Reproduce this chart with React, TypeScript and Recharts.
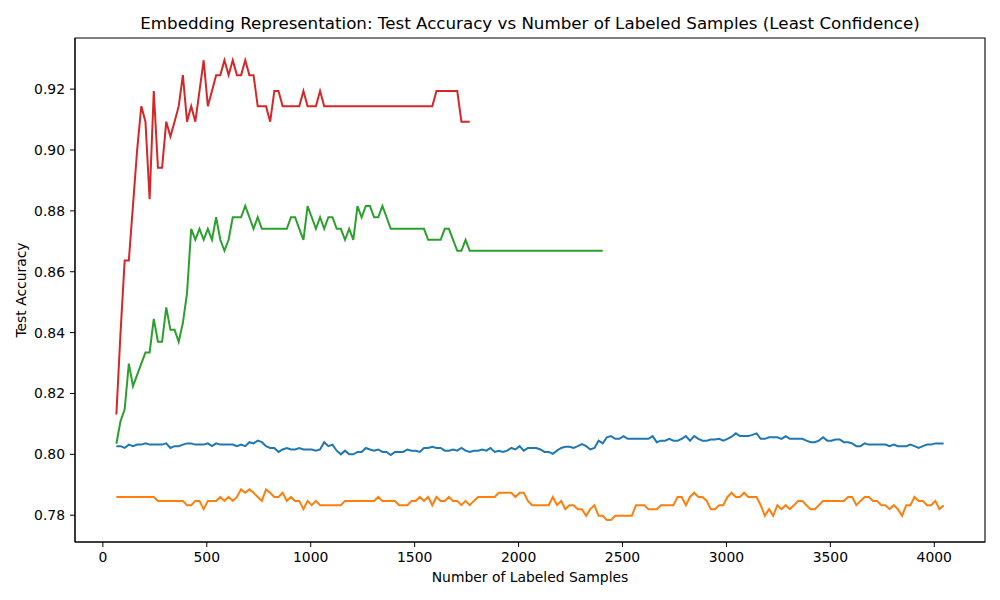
import React from "react";
import { Label, Line, LineChart, ReferenceArea, XAxis, YAxis } from "recharts";

// labeled-sample counts: first round, then a fixed batch per round
const START_SAMPLES = 65;
const BATCH = 20;

const xTicks = [0, 500, 1000, 1500, 2000, 2500, 3000, 3500, 4000];
const yTicks = [0.78, 0.8, 0.82, 0.84, 0.86, 0.88, 0.9, 0.92];
const X_DOMAIN = [-134, 4244];
const Y_DOMAIN = [0.7712, 0.9368];

const blueAcc = [
  0.8027, 0.8027, 0.8021, 0.8032, 0.8027, 0.8032, 0.8032, 0.8036, 0.8032, 0.8032,
  0.8032, 0.8032, 0.8036, 0.8021, 0.8027, 0.8027, 0.8032, 0.8036, 0.8036, 0.8032,
  0.8032, 0.8032, 0.8036, 0.8027, 0.8036, 0.8032, 0.8032, 0.8032, 0.8032, 0.8027,
  0.8032, 0.8027, 0.804, 0.8036, 0.8045, 0.804, 0.8027, 0.8021, 0.8021, 0.8008,
  0.8016, 0.8021, 0.8016, 0.8016, 0.8021, 0.8016, 0.8016, 0.8016, 0.8012, 0.8016,
  0.804, 0.8027, 0.8032, 0.8012, 0.8, 0.8012, 0.8, 0.8, 0.8008, 0.8008,
  0.8021, 0.8016, 0.8012, 0.8016, 0.8008, 0.8008, 0.7998, 0.8008, 0.8008, 0.8008,
  0.8016, 0.8012, 0.8012, 0.8008, 0.8021, 0.8021, 0.8025, 0.8021, 0.8021, 0.8012,
  0.8012, 0.8016, 0.8012, 0.8021, 0.8012, 0.8008, 0.8012, 0.8012, 0.8016, 0.8012,
  0.8021, 0.8008, 0.8012, 0.8008, 0.8012, 0.8021, 0.8016, 0.8027, 0.8012, 0.8021,
  0.8021, 0.8021, 0.8016, 0.8008, 0.8008, 0.8002, 0.8012, 0.8021, 0.8025, 0.8025,
  0.8021, 0.8027, 0.8034, 0.8027, 0.8016, 0.8021, 0.8045, 0.8036, 0.8056, 0.806,
  0.8051, 0.8051, 0.806, 0.8051, 0.8051, 0.8051, 0.8051, 0.8051, 0.8051, 0.806,
  0.804, 0.8045, 0.8045, 0.8051, 0.8045, 0.8045, 0.8051, 0.806, 0.8045, 0.806,
  0.8051, 0.8045, 0.8045, 0.8049, 0.8049, 0.8051, 0.8045, 0.8051, 0.8058, 0.8069,
  0.806, 0.806, 0.806, 0.8064, 0.8069, 0.8051, 0.8051, 0.8056, 0.8056, 0.8056,
  0.8051, 0.806, 0.8051, 0.8051, 0.8051, 0.8051, 0.8045, 0.804, 0.804, 0.8045,
  0.8056, 0.8045, 0.8045, 0.8049, 0.8049, 0.804, 0.804, 0.8036, 0.8027, 0.8027,
  0.8036, 0.8032, 0.8032, 0.8032, 0.8032, 0.8032, 0.8027, 0.8032, 0.8027, 0.8027,
  0.8027, 0.8032, 0.8027, 0.8021, 0.8027, 0.8032, 0.8032, 0.8036, 0.8036, 0.8036,
];

const orangeAcc = [
  0.786, 0.786, 0.786, 0.786, 0.786, 0.786, 0.786, 0.786, 0.786, 0.786,
  0.7847, 0.7847, 0.7847, 0.7847, 0.7847, 0.7847, 0.7847, 0.7833, 0.7833, 0.7847,
  0.7847, 0.782, 0.7847, 0.7847, 0.7847, 0.786, 0.7847, 0.786, 0.7847, 0.786,
  0.7885, 0.7874, 0.7885, 0.7874, 0.786, 0.7847, 0.7885, 0.7874, 0.786, 0.786,
  0.7874, 0.7847, 0.786, 0.7847, 0.7847, 0.782, 0.7847, 0.7833, 0.7847, 0.7833,
  0.7833, 0.7833, 0.7833, 0.7833, 0.7833, 0.7847, 0.7847, 0.7847, 0.7847, 0.7847,
  0.7847, 0.7847, 0.7847, 0.786, 0.7847, 0.7847, 0.7847, 0.7847, 0.7833, 0.7833,
  0.7833, 0.7847, 0.7847, 0.786, 0.7847, 0.786, 0.7833, 0.786, 0.7847, 0.7847,
  0.786, 0.7847, 0.7847, 0.7833, 0.7847, 0.7833, 0.7847, 0.786, 0.786, 0.786,
  0.786, 0.786, 0.7874, 0.7874, 0.7874, 0.7874, 0.786, 0.7874, 0.7874, 0.7847,
  0.7833, 0.7833, 0.7833, 0.7833, 0.7833, 0.786, 0.7833, 0.7847, 0.782, 0.7833,
  0.7833, 0.782, 0.782, 0.7798, 0.782, 0.7833, 0.7798, 0.7798, 0.7784, 0.7784,
  0.7798, 0.7798, 0.7798, 0.7798, 0.7798, 0.7833, 0.7833, 0.7833, 0.782, 0.782,
  0.782, 0.7833, 0.7833, 0.7833, 0.7833, 0.786, 0.786, 0.7833, 0.786, 0.7874,
  0.786, 0.786, 0.7847, 0.782, 0.782, 0.7833, 0.7833, 0.786, 0.7874, 0.786,
  0.786, 0.7874, 0.786, 0.786, 0.786, 0.7833, 0.7798, 0.782, 0.7798, 0.7833,
  0.782, 0.7833, 0.782, 0.7833, 0.7847, 0.7847, 0.7833, 0.782, 0.782, 0.7833,
  0.7847, 0.7847, 0.7847, 0.7847, 0.7847, 0.7847, 0.786, 0.786, 0.7833, 0.7847,
  0.786, 0.786, 0.7847, 0.7847, 0.7833, 0.7833, 0.782, 0.7833, 0.782, 0.7798,
  0.7833, 0.7833, 0.786, 0.7847, 0.7847, 0.7833, 0.7833, 0.7847, 0.782, 0.7833,
];

const greenAcc = [
  0.8035, 0.8109, 0.8148, 0.8298, 0.8224, 0.8261, 0.8298, 0.8335, 0.8335, 0.8445,
  0.837, 0.837, 0.8483, 0.8409, 0.8409, 0.837, 0.8432, 0.853, 0.8741, 0.8705,
  0.8741, 0.8705, 0.8741, 0.8705, 0.8779, 0.8705, 0.8669, 0.8705, 0.8779, 0.8779,
  0.8779, 0.8816, 0.8779, 0.8741, 0.8779, 0.8741, 0.8741, 0.8741, 0.8741, 0.8741,
  0.8741, 0.8741, 0.8779, 0.8779, 0.8741, 0.8705, 0.8816, 0.8779, 0.8741, 0.8779,
  0.8741, 0.8779, 0.8779, 0.8741, 0.8741, 0.8705, 0.8741, 0.8705, 0.8816, 0.8779,
  0.8816, 0.8816, 0.8779, 0.8779, 0.8816, 0.8779, 0.8741, 0.8741, 0.8741, 0.8741,
  0.8741, 0.8741, 0.8741, 0.8741, 0.8741, 0.8705, 0.8705, 0.8705, 0.8705, 0.8741,
  0.8741, 0.8705, 0.8669, 0.8669, 0.8705, 0.8669, 0.8669, 0.8669, 0.8669, 0.8669,
  0.8669, 0.8669, 0.8669, 0.8669, 0.8669, 0.8669, 0.8669, 0.8669, 0.8669, 0.8669,
  0.8669, 0.8669, 0.8669, 0.8669, 0.8669, 0.8669, 0.8669, 0.8669, 0.8669, 0.8669,
  0.8669, 0.8669, 0.8669, 0.8669, 0.8669, 0.8669, 0.8669, 0.8669,
];

const redAcc = [
  0.8131, 0.8399, 0.8637, 0.8637, 0.8819, 0.9, 0.9144, 0.9093, 0.8838, 0.9194,
  0.8942, 0.8942, 0.9093, 0.9044, 0.9093, 0.9144, 0.9246, 0.9093, 0.9144, 0.9093,
  0.9194, 0.9295, 0.9144, 0.9194, 0.9246, 0.9246, 0.9295, 0.9246, 0.9295, 0.9246,
  0.9246, 0.9295, 0.9246, 0.9246, 0.9144, 0.9144, 0.9144, 0.9093, 0.9194, 0.9194,
  0.9144, 0.9144, 0.9144, 0.9144, 0.9144, 0.9194, 0.9144, 0.9144, 0.9144, 0.9194,
  0.9144, 0.9144, 0.9144, 0.9144, 0.9144, 0.9144, 0.9144, 0.9144, 0.9144, 0.9144,
  0.9144, 0.9144, 0.9144, 0.9144, 0.9144, 0.9144, 0.9144, 0.9144, 0.9144, 0.9144,
  0.9144, 0.9144, 0.9144, 0.9144, 0.9144, 0.9144, 0.9144, 0.9194, 0.9194, 0.9194,
  0.9194, 0.9194, 0.9194, 0.9093, 0.9093, 0.9093,
];

const data = blueAcc.map((b, i) => ({
  samples: START_SAMPLES + i * BATCH,
  blue: b,
  orange: orangeAcc[i],
  green: greenAcc[i],
  red: redAcc[i],
}));

const FONT = "DejaVu Sans, sans-serif";
const tickStyle = { fontSize: 13.9, fill: "#000", fontFamily: FONT };

export default function App() {
  return (
    <div style={{ position: "absolute", left: 0, top: 0, width: 1000, height: 600, background: "#fff" }}>
      <div
        style={{
          position: "absolute",
          left: 75,
          top: 13,
          width: 910,
          textAlign: "center",
          fontFamily: FONT,
          fontSize: 16.7,
          lineHeight: "20px",
          color: "#000",
        }}
      >
        Embedding Representation: Test Accuracy vs Number of Labeled Samples (Least Confidence)
      </div>
      <LineChart width={1000} height={600} data={data} margin={{ top: 38, right: 15, bottom: 10, left: 0 }}>
        <XAxis
          dataKey="samples"
          type="number"
          domain={X_DOMAIN}
          ticks={xTicks}
          allowDataOverflow
          height={48}
          tick={tickStyle}
          tickSize={5}
          tickMargin={5}
          stroke="#000"
        >
          <Label
            value="Number of Labeled Samples"
            position="insideBottom"
            offset={8}
            style={{ fontSize: 13.9, fill: "#000", fontFamily: FONT }}
          />
        </XAxis>
        <YAxis
          type="number"
          domain={Y_DOMAIN}
          ticks={yTicks}
          allowDataOverflow
          width={75}
          tick={tickStyle}
          tickSize={5}
          tickMargin={5}
          tickFormatter={(v) => Number(v).toFixed(2)}
          stroke="#000"
        >
          <Label
            value="Test Accuracy"
            angle={-90}
            position="insideLeft"
            offset={21}
            style={{ fontSize: 13.9, fill: "#000", fontFamily: FONT, textAnchor: "middle" }}
          />
        </YAxis>
        {/* frame around the plot, like matplotlib's four spines */}
        <ReferenceArea
          x1={X_DOMAIN[0]}
          x2={X_DOMAIN[1]}
          y1={Y_DOMAIN[0]}
          y2={Y_DOMAIN[1]}
          fill="none"
          stroke="#000"
          strokeWidth={1.1}
          fillOpacity={0}
        />
        <Line dataKey="blue" stroke="#1f77b4" strokeWidth={2} dot={false} isAnimationActive={false} type="linear" />
        <Line dataKey="orange" stroke="#ff7f0e" strokeWidth={2} dot={false} isAnimationActive={false} type="linear" />
        <Line dataKey="green" stroke="#2ca02c" strokeWidth={2} dot={false} isAnimationActive={false} type="linear" />
        <Line dataKey="red" stroke="#d62728" strokeWidth={2} dot={false} isAnimationActive={false} type="linear" />
      </LineChart>
    </div>
  );
}
